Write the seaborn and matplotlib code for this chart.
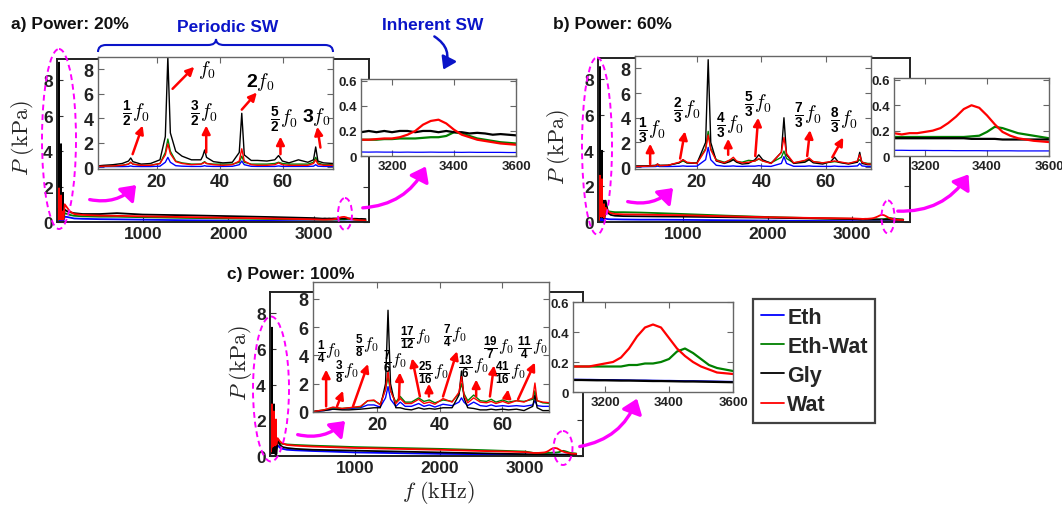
import numpy as np
import pandas as pd
import matplotlib
matplotlib.use("Agg")
import matplotlib.pyplot as plt
import matplotlib.transforms as mtransforms
import matplotlib.ticker as mticker
from matplotlib.patches import Ellipse, FancyArrowPatch, PathPatch
from matplotlib.path import Path
from matplotlib.lines import Line2D
import seaborn as sns

# ---------------------------------------------------------------- data
fluids = ["Eth", "Eth-Wat", "Gly", "Wat"]
colors = ["#0000ff", "#008000", "#000000", "#ff0000"]

# mid-range frequencies (kHz) shown only in the main axes
f_mid = [90, 120, 150, 200, 300, 500, 700, 1000, 1500, 2000, 2500, 3000]
# high-frequency window (kHz)
f_high = [3100, 3125, 3150, 3175, 3200, 3225, 3250, 3275, 3300, 3325, 3350,
          3375, 3400, 3425, 3450, 3475, 3500, 3525, 3550, 3575, 3600]

# ---- panel a (20 %)
a_f_low = [1, 3, 6, 9, 11, 11.7, 12.4, 15, 18, 21, 22.7, 23.5, 24.3, 26, 28, 31,
           34, 34.6, 35.2, 35.8, 38, 41, 44, 46.2, 47, 47.8, 50, 52, 55, 57.5,
           58.7, 59.9, 62, 65, 68, 69.8, 70.5, 71.2, 73, 76]
a_low_eth = [0.02, 0.04, 0.05, 0.05, 0.06, 0.1, 0.06, 0.05, 0.05, 0.08, 0.4, 0.8, 0.4,
             0.12, 0.08, 0.06, 0.06, 0.08, 0.12, 0.08, 0.06, 0.06, 0.07, 0.2, 0.5, 0.2,
             0.07, 0.06, 0.06, 0.06, 0.1, 0.06, 0.06, 0.06, 0.06, 0.08, 0.2, 0.08, 0.06, 0.06]
a_low_ethwat = [0.05, 0.08, 0.1, 0.15, 0.25, 0.4, 0.25, 0.15, 0.15, 0.3, 1.2, 2.3, 1.3,
                0.5, 0.35, 0.25, 0.25, 0.35, 0.45, 0.3, 0.25, 0.25, 0.25, 0.4, 0.9, 0.4,
                0.25, 0.25, 0.25, 0.3, 0.4, 0.3, 0.25, 0.25, 0.25, 0.4, 0.8, 0.35, 0.2, 0.2]
a_low_gly = [0.1, 0.15, 0.2, 0.3, 0.5, 0.75, 0.45, 0.25, 0.3, 0.6, 2.5, 9.0, 2.8,
             1.3, 0.9, 0.6, 0.6, 0.9, 1.4, 0.8, 0.45, 0.35, 0.4, 1.2, 4.4, 1.0,
             0.55, 0.55, 0.5, 0.6, 0.95, 0.5, 0.35, 0.6, 0.4, 0.6, 1.65, 0.5, 0.35, 0.3]
a_low_wat = [0.05, 0.08, 0.1, 0.15, 0.25, 0.4, 0.25, 0.15, 0.15, 0.3, 1.0, 1.9, 1.1,
             0.45, 0.3, 0.2, 0.25, 0.3, 0.4, 0.3, 0.2, 0.15, 0.2, 0.5, 1.5, 0.5,
             0.2, 0.15, 0.15, 0.2, 0.35, 0.2, 0.15, 0.15, 0.15, 0.3, 0.6, 0.25, 0.15, 0.15]
a_mid_eth = [0.3, 0.28, 0.25, 0.2, 0.18, 0.16, 0.15, 0.13, 0.1, 0.08, 0.06, 0.04]
a_mid_ethwat = [0.5, 0.45, 0.4, 0.35, 0.32, 0.3, 0.3, 0.27, 0.23, 0.2, 0.17, 0.14]
a_mid_gly = [0.7, 0.6, 0.55, 0.5, 0.45, 0.45, 0.5, 0.42, 0.38, 0.33, 0.28, 0.22]
a_mid_wat = [1.0, 0.8, 0.6, 0.45, 0.4, 0.36, 0.35, 0.32, 0.28, 0.24, 0.2, 0.15]
a_high_eth = [0.032, 0.031, 0.032, 0.031, 0.031, 0.030, 0.031, 0.030, 0.030, 0.031, 0.030,
              0.030, 0.030, 0.029, 0.030, 0.029, 0.029, 0.029, 0.029, 0.028, 0.028]
a_high_ethwat = [0.13, 0.13, 0.13, 0.135, 0.135, 0.14, 0.14, 0.14, 0.145, 0.15, 0.15,
                 0.16, 0.19, 0.18, 0.16, 0.14, 0.13, 0.12, 0.11, 0.105, 0.10]
a_high_gly = [0.19, 0.20, 0.19, 0.20, 0.19, 0.20, 0.20, 0.19, 0.20, 0.20, 0.19,
              0.20, 0.19, 0.19, 0.18, 0.185, 0.18, 0.17, 0.175, 0.17, 0.165]
a_high_wat = [0.13, 0.13, 0.135, 0.14, 0.14, 0.15, 0.17, 0.2, 0.25, 0.28, 0.29,
              0.26, 0.21, 0.17, 0.15, 0.13, 0.12, 0.11, 0.10, 0.095, 0.09]

# ---- panel b (60 %)
b_f_low = [1, 4, 7.2, 7.8, 8.4, 11, 14.5, 15.7, 16.9, 20, 22.7, 23.5, 24.3, 26, 28.5,
           30.3, 31.3, 32.3, 34, 36, 38, 39.2, 40.4, 43, 46.2, 47, 47.8, 50, 53.5,
           54.8, 56.1, 59, 61.5, 62.7, 63.9, 67, 69.8, 70.5, 71.2, 73, 76]
b_low_eth = [0.03, 0.04, 0.05, 0.08, 0.05, 0.05, 0.07, 0.1, 0.07, 0.08, 0.6, 1.6, 0.6,
             0.15, 0.07, 0.08, 0.1, 0.07, 0.06, 0.08, 0.08, 0.12, 0.08, 0.06, 0.3, 0.85,
             0.3, 0.07, 0.07, 0.1, 0.07, 0.06, 0.06, 0.09, 0.06, 0.05, 0.1, 0.3, 0.1, 0.05, 0.05]
b_low_ethwat = [0.05, 0.07, 0.12, 0.2, 0.12, 0.15, 0.35, 0.5, 0.35, 0.35, 1.5, 2.9, 1.5,
                0.6, 0.4, 0.55, 0.65, 0.45, 0.4, 0.55, 0.5, 0.65, 0.5, 0.35, 0.8, 1.3,
                0.7, 0.35, 0.5, 0.65, 0.45, 0.35, 0.4, 0.45, 0.4, 0.3, 0.45, 0.6, 0.4, 0.3, 0.3]
b_low_gly = [0.1, 0.1, 0.15, 0.25, 0.15, 0.15, 0.35, 0.6, 0.35, 0.3, 2.0, 8.7, 2.0,
             0.5, 0.3, 0.45, 0.6, 0.4, 0.25, 0.3, 0.6, 1.0, 0.6, 0.3, 1.2, 4.0,
             1.0, 0.3, 0.4, 0.6, 0.35, 0.25, 0.45, 0.8, 0.4, 0.25, 0.4, 1.2, 0.3, 0.2, 0.2]
b_low_wat = [0.05, 0.07, 0.12, 0.25, 0.12, 0.15, 0.4, 0.6, 0.4, 0.3, 1.4, 2.6, 1.4,
             0.55, 0.35, 0.6, 0.8, 0.5, 0.35, 0.4, 0.5, 0.7, 0.5, 0.3, 1.2, 2.4,
             1.1, 0.35, 0.55, 0.75, 0.45, 0.35, 0.45, 0.5, 0.45, 0.3, 0.5, 1.0, 0.4, 0.25, 0.25]
b_mid_eth = [0.18, 0.16, 0.15, 0.15, 0.14, 0.13, 0.13, 0.12, 0.1, 0.08, 0.06, 0.05]
b_mid_ethwat = [0.6, 0.6, 0.58, 0.55, 0.55, 0.53, 0.5, 0.45, 0.36, 0.28, 0.22, 0.18]
b_mid_gly = [1.2, 0.5, 0.4, 0.35, 0.33, 0.32, 0.31, 0.3, 0.27, 0.24, 0.2, 0.16]
b_mid_wat = [0.8, 0.6, 0.5, 0.45, 0.43, 0.42, 0.4, 0.38, 0.32, 0.27, 0.23, 0.2]
b_high_eth = [0.045, 0.045, 0.044, 0.044, 0.044, 0.043, 0.043, 0.043, 0.042, 0.042, 0.042,
              0.042, 0.041, 0.041, 0.041, 0.041, 0.040, 0.040, 0.040, 0.040, 0.040]
b_high_ethwat = [0.15, 0.15, 0.15, 0.15, 0.15, 0.15, 0.15, 0.15, 0.15, 0.15, 0.155,
                 0.16, 0.19, 0.23, 0.22, 0.2, 0.18, 0.17, 0.16, 0.15, 0.14]
b_high_gly = [0.14, 0.14, 0.14, 0.14, 0.14, 0.14, 0.14, 0.14, 0.14, 0.14, 0.135,
              0.135, 0.135, 0.135, 0.13, 0.13, 0.13, 0.13, 0.13, 0.13, 0.13]
b_high_wat = [0.18, 0.17, 0.18, 0.18, 0.19, 0.2, 0.22, 0.26, 0.31, 0.37, 0.4,
              0.38, 0.32, 0.25, 0.19, 0.16, 0.14, 0.13, 0.12, 0.115, 0.11]

# ---- panel c (100 %)
c_f_low = [0, 3, 5.9, 8.8, 11, 14.7, 17, 19, 21, 22.7, 23.5, 24.3, 26, 27.4, 29, 31,
           33.3, 35, 36.7, 38.5, 41.1, 44, 46.2, 47, 47.8, 49, 50.9, 53, 55, 56.5,
           58, 60.2, 62, 64.6, 67, 69.8, 70.5, 71.2, 73, 75.5]
c_low_eth = [0.03, 0.1, 0.2, 0.2, 0.25, 0.3, 0.5, 0.5, 0.35, 1.0, 1.8, 0.9, 0.4, 0.7,
             0.4, 0.4, 0.6, 0.4, 0.5, 0.35, 0.55, 0.45, 0.7, 1.0, 0.7, 0.45, 0.7, 0.45,
             0.4, 0.5, 0.4, 0.45, 0.4, 0.45, 0.4, 0.5, 0.8, 0.45, 0.4, 0.4]
c_low_ethwat = [0.05, 0.15, 0.3, 0.25, 0.3, 0.35, 0.8, 0.8, 0.55, 1.6, 2.5, 1.5, 0.7, 1.1,
                0.7, 0.7, 1.0, 0.75, 0.85, 0.65, 0.85, 0.75, 1.3, 2.0, 1.3, 0.8, 1.2, 0.8,
                0.75, 0.9, 0.7, 0.85, 0.7, 0.8, 0.75, 0.9, 1.5, 0.8, 0.65, 0.6]
c_low_gly = [0.05, 0.1, 0.2, 0.15, 0.15, 0.2, 0.25, 0.3, 0.3, 2.0, 7.2, 2.0, 0.3, 0.3,
             0.2, 0.15, 0.3, 0.2, 0.25, 0.2, 0.3, 0.3, 1.2, 2.9, 1.0, 0.3, 0.25, 0.15,
             0.15, 0.2, 0.15, 0.2, 0.15, 0.2, 0.1, 0.4, 1.2, 0.3, 0.1, 0.1]
c_low_wat = [0.05, 0.15, 0.35, 0.25, 0.3, 0.4, 0.8, 0.85, 0.5, 1.6, 2.9, 1.5, 0.6, 0.95,
             0.6, 0.6, 0.9, 0.6, 0.7, 0.55, 0.95, 0.7, 1.4, 2.5, 1.2, 0.65, 1.0, 0.7,
             0.65, 0.75, 0.6, 0.75, 0.6, 0.8, 0.7, 1.0, 2.05, 0.8, 0.7, 0.65]
c_mid_eth = [0.6, 0.45, 0.4, 0.35, 0.32, 0.28, 0.25, 0.2, 0.16, 0.12, 0.1, 0.08]
c_mid_ethwat = [0.8, 0.7, 0.68, 0.65, 0.62, 0.58, 0.55, 0.5, 0.45, 0.4, 0.33, 0.25]
c_mid_gly = [0.9, 0.6, 0.5, 0.45, 0.4, 0.35, 0.33, 0.3, 0.25, 0.2, 0.15, 0.1]
c_mid_wat = [1.0, 0.8, 0.7, 0.62, 0.58, 0.53, 0.5, 0.45, 0.4, 0.35, 0.28, 0.22]
c_high_eth = [0.085, 0.084, 0.084, 0.083, 0.082, 0.082, 0.081, 0.080, 0.079, 0.079, 0.078,
              0.077, 0.077, 0.076, 0.075, 0.075, 0.074, 0.073, 0.072, 0.071, 0.070]
c_high_ethwat = [0.17, 0.17, 0.17, 0.17, 0.17, 0.17, 0.17, 0.18, 0.18, 0.19, 0.19,
                 0.2, 0.22, 0.27, 0.29, 0.26, 0.22, 0.18, 0.16, 0.15, 0.14]
c_high_gly = [0.08, 0.08, 0.079, 0.078, 0.078, 0.077, 0.076, 0.076, 0.075, 0.074, 0.073,
              0.073, 0.072, 0.071, 0.07, 0.07, 0.069, 0.068, 0.067, 0.066, 0.065]
c_high_wat = [0.17, 0.17, 0.17, 0.18, 0.19, 0.2, 0.23, 0.29, 0.37, 0.43, 0.45,
              0.43, 0.36, 0.29, 0.24, 0.2, 0.17, 0.15, 0.13, 0.125, 0.12]

# annotation labels (text, text position, arrow tail, arrow head) in inset data units
a_labels = [
    (r"$\frac{\mathbf{1}}{\mathbf{2}}f_0$", (13.3, 4.4), (12.3, 1.06), (15.5, 3.4)),
    (r"$f_0$", (36.0, 8.0), (25.0, 6.4), (31.9, 8.2)),
    (r"$\frac{\mathbf{3}}{\mathbf{2}}f_0$", (35.0, 4.4), (35.7, 1.2), (35.7, 3.4)),
    (r"$\mathbf{2}f_0$", (53.0, 7.0), (47.0, 4.7), (51.8, 6.1)),
    (r"$\frac{\mathbf{5}}{\mathbf{2}}f_0$", (60.5, 3.9), (59.3, 1.06), (59.3, 2.5)),
    (r"$\mathbf{3}f_0$", (70.7, 4.2), (72.0, 1.6), (71.0, 3.3)),
]
b_labels = [
    (r"$\frac{\mathbf{1}}{\mathbf{3}}f_0$", (6.0, 3.0), (5.5, 0.25), (5.5, 1.9)),
    (r"$\frac{\mathbf{2}}{\mathbf{3}}f_0$", (17.0, 4.6), (14.8, 0.7), (16.3, 2.9)),
    (r"$\frac{\mathbf{4}}{\mathbf{3}}f_0$", (30.3, 3.4), (29.7, 1.0), (29.7, 2.3)),
    (r"$\frac{\mathbf{5}}{\mathbf{3}}f_0$", (39.0, 5.1), (38.1, 0.9), (39.0, 4.0)),
    (r"$\frac{\mathbf{7}}{\mathbf{3}}f_0$", (54.5, 4.2), (54.2, 0.9), (55.1, 3.0)),
    (r"$\frac{\mathbf{8}}{\mathbf{3}}f_0$", (65.5, 3.8), (62.0, 0.8), (65.4, 2.4)),
]
c_labels = [
    (r"$\frac{\mathbf{1}}{\mathbf{4}}f_0$", (4.5, 4.3), (3.7, 0.4), (3.7, 3.0)),
    (r"$\frac{\mathbf{3}}{\mathbf{8}}f_0$", (10.4, 2.9), (7.2, 0.4), (9.1, 1.5)),
    (r"$\frac{\mathbf{5}}{\mathbf{8}}f_0$", (16.8, 4.7), (12.3, 0.4), (17.1, 3.4)),
    (r"$\frac{\mathbf{7}}{\mathbf{6}}f_0$", (25.7, 3.6), (27.0, 0.9), (27.3, 2.8)),
    (r"$\frac{\mathbf{17}}{\mathbf{12}}f_0$", (32.1, 5.3), (33.7, 1.1), (31.2, 3.8)),
    (r"$\frac{\mathbf{25}}{\mathbf{16}}f_0$", (37.9, 2.8), (36.6, 1.1), (36.6, 2.0)),
    (r"$\frac{\mathbf{7}}{\mathbf{4}}f_0$", (44.9, 5.4), (41.1, 1.1), (45.6, 4.3)),
    (r"$\frac{\mathbf{13}}{\mathbf{6}}f_0$", (50.7, 3.2), (51.7, 1.1), (51.7, 2.3)),
    (r"$\frac{\mathbf{19}}{\mathbf{7}}f_0$", (58.7, 4.6), (56.1, 1.1), (57.4, 3.3)),
    (r"$\frac{\mathbf{41}}{\mathbf{16}}f_0$", (62.5, 2.8), (61.6, 1.1), (61.9, 1.6)),
    (r"$\frac{\mathbf{11}}{\mathbf{4}}f_0$", (69.6, 4.6), (65.1, 0.9), (70.5, 3.5)),
]

# ---------------------------------------------------------------- style
sns.set_theme(style="ticks")
plt.rcParams.update({
    "font.family": ["Liberation Sans", "DejaVu Sans"],
    "font.weight": "bold",
    "mathtext.fontset": "custom",
    "mathtext.rm": "cmr10",
    "mathtext.it": "cmmi10",
    "mathtext.bf": "Liberation Sans:bold",
    "axes.unicode_minus": False,
    "xtick.direction": "in",
    "ytick.direction": "in",
    "xtick.top": True,
    "ytick.right": True,
})

W, H = 1062, 510
fig = plt.figure(figsize=(W / 100, H / 100), dpi=100)
T = mtransforms.Affine2D().scale(1 / W, -1 / H).translate(0, 1) + fig.transFigure


def add_ax(x0, y0, x1, y1):
    return fig.add_axes([x0 / W, 1 - y1 / H, (x1 - x0) / W, (y1 - y0) / H])


def long_df(f, series):
    rows = []
    for name, vals in zip(fluids, series):
        rows.append(pd.DataFrame({"f": f, "P": vals, "fluid": name}))
    return pd.concat(rows, ignore_index=True)


def draw(ax, df, lw):
    sns.lineplot(data=df, x="f", y="P", hue="fluid", hue_order=fluids,
                 palette=colors, estimator=None, sort=False, legend=False,
                 lw=lw, ax=ax)
    ax.set_xlabel("")
    ax.set_ylabel("")


def style(ax, main, fs):
    for s in ax.spines.values():
        s.set_linewidth(1.4 if main else 1.0)
        s.set_color("#222222" if main else "#666666")
    ax.tick_params(length=4, width=0.8, labelsize=fs, pad=3,
                   colors="#333333" if main else "#666666", labelcolor="#222222")
    for lab in ax.get_xticklabels() + ax.get_yticklabels():
        lab.set_fontweight("bold")
    ax.set_facecolor("white")


fmt_hi = mticker.FuncFormatter(lambda v, p: "0" if abs(v) < 1e-9 else f"{v:.1f}")


def panel(main_box, low_box, high_box, f_low, low, mid, high, labels,
          main_xlim, low_xlim, low_ylim, high_ylim, lab_fs):
    axm = add_ax(*main_box)
    f_all = list(f_low) + list(f_mid) + list(f_high)
    series_all = [list(l) + list(m) + list(h) for l, m, h in zip(low, mid, high)]
    draw(axm, long_df(f_all, series_all), 1.3)
    axm.set_xlim(*main_xlim)
    axm.set_ylim(0, 9.2)
    axm.set_xticks([1000, 2000, 3000])
    axm.set_yticks([0, 2, 4, 6, 8])
    style(axm, True, 12.5)

    axl = add_ax(*low_box)
    draw(axl, long_df(f_low, low), 1.0)
    axl.set_xlim(*low_xlim)
    axl.set_ylim(*low_ylim)
    axl.set_xticks([20, 40, 60])
    axl.set_yticks([0, 2, 4, 6, 8])
    style(axl, False, 13)
    for txt, tp, tail, head in labels:
        axl.text(tp[0], tp[1], txt, ha="center", va="center", fontsize=lab_fs,
                 color="black")
        axl.annotate("", xy=head, xytext=tail,
                     arrowprops=dict(arrowstyle="-|>", color="red", lw=1.8,
                                     mutation_scale=12, shrinkA=0, shrinkB=0))

    axh = add_ax(*high_box)
    draw(axh, long_df(f_high, high), 1.6)
    axh.set_xlim(3100, 3600)
    axh.set_ylim(*high_ylim)
    axh.set_xticks([3200, 3400, 3600])
    axh.set_yticks([0, 0.2, 0.4, 0.6])
    axh.yaxis.set_major_formatter(fmt_hi)
    style(axh, False, 9.5)
    for ln in axh.get_lines():
        if ln.get_color() in ("#0000ff",):
            ln.set_linewidth(0.9)
    return axm, axl, axh


panel((57, 60, 369, 223), (98, 58, 333, 170), (361, 80, 516, 157),
      a_f_low, [a_low_eth, a_low_ethwat, a_low_gly, a_low_wat],
      [a_mid_eth, a_mid_ethwat, a_mid_gly, a_mid_wat],
      [a_high_eth, a_high_ethwat, a_high_gly, a_high_wat], a_labels,
      (0, 3640), (1.3, 76), (-0.15, 9.0), (0, 0.615), 14)
panel((598, 59, 910, 223), (635, 57, 871, 170), (894, 79, 1049, 157),
      b_f_low, [b_low_eth, b_low_ethwat, b_low_gly, b_low_wat],
      [b_mid_eth, b_mid_ethwat, b_mid_gly, b_mid_wat],
      [b_high_eth, b_high_ethwat, b_high_gly, b_high_wat], b_labels,
      (0, 3680), (0.8, 74), (-0.15, 9.0), (0, 0.615), 14)
panel((270, 293, 583, 457), (313, 283, 549, 413), (573, 303, 733, 393),
      c_f_low, [c_low_eth, c_low_ethwat, c_low_gly, c_low_wat],
      [c_mid_eth, c_mid_ethwat, c_mid_gly, c_mid_wat],
      [c_high_eth, c_high_ethwat, c_high_gly, c_high_wat], c_labels,
      (0, 3680), (-0.5, 75), (0, 9.2), (0, 0.6), 12)

# ---------------------------------------------------------------- texts
for s, x, y in [("a) Power: 20%", 11, 25), ("b) Power: 60%", 553, 25),
                ("c) Power: 100%", 227, 275)]:
    fig.text(x, y, s, transform=T, fontsize=12.5, fontweight="bold",
             ha="left", va="center", color="#111111")
fig.text(228, 27, "Periodic SW", transform=T, fontsize=12.5, fontweight="bold",
         ha="center", va="center", color="#0a14c8")
fig.text(433, 25, "Inherent SW", transform=T, fontsize=12.5, fontweight="bold",
         ha="center", va="center", color="#0a14c8")
for x, y in [(22, 138), (558, 147), (240, 363)]:
    fig.text(x, y, r"$P\ (\mathrm{kPa})$", transform=T, fontsize=16, rotation=90,
             ha="center", va="center", math_fontfamily="cm", fontweight="normal")
fig.text(438, 493, r"$f\ (\mathrm{kHz})$", transform=T, fontsize=16,
         ha="center", va="center", math_fontfamily="cm", fontweight="normal")

# ---------------------------------------------------------------- decorations
mag = "#ff00ff"
for cx, cy, w, h in [(59, 140, 34, 180), (345, 215, 14, 32), (597, 147, 30, 177),
                     (888, 218, 13, 33), (271, 390, 36, 145), (563, 449, 19, 34)]:
    fig.add_artist(Ellipse((cx, cy), w, h, transform=T, fill=False, ec=mag,
                           lw=1.4, ls=(0, (3, 2)), zorder=20))

for pa, pb in [((87, 200), (138, 184)), ((360, 209), (427, 165)),
               ((625, 202), (675, 187)), ((895, 212), (970, 173)),
               ((295, 435), (347, 420)), ((577, 448), (638, 397))]:
    fig.add_artist(FancyArrowPatch(pa, pb, transform=T,
                                   connectionstyle="arc3,rad=0.3",
                                   arrowstyle="-|>,head_length=0.6,head_width=0.45",
                                   mutation_scale=14, color=mag, lw=2.4, zorder=20))

fig.add_artist(FancyArrowPatch((432, 36), (442, 73), transform=T,
                               connectionstyle="arc3,rad=-0.5",
                               arrowstyle="-|>,head_length=0.6,head_width=0.4",
                               mutation_scale=12, color="#0a14c8", lw=1.8, zorder=20))

brace = Path([(98, 53), (98, 46), (106, 46), (208, 46), (216, 46), (216, 40),
              (216, 46), (224, 46), (325, 46), (333, 46), (333, 53)],
             [Path.MOVETO, Path.CURVE3, Path.CURVE3, Path.LINETO, Path.CURVE3,
              Path.CURVE3, Path.CURVE3, Path.CURVE3, Path.LINETO, Path.CURVE3,
              Path.CURVE3])
fig.add_artist(PathPatch(brace, transform=T, fill=False, ec="#0a14c8", lw=1.5,
                         zorder=20))

# ---------------------------------------------------------------- legend
handles = [Line2D([], [], color=c, lw=1.3) for c in colors]
leg = fig.legend(handles, fluids, loc="upper left",
                 bbox_to_anchor=(753 / W, 1 - 300 / H), bbox_transform=fig.transFigure,
                 borderaxespad=0, frameon=True, fancybox=False,
                 prop={"family": "Liberation Sans", "weight": "bold", "size": 15.5},
                 handlelength=1.1, handletextpad=0.15, labelspacing=0.38,
                 borderpad=0.35)
leg.get_frame().set_edgecolor("#111111")
leg.get_frame().set_linewidth(1.6)

fig.savefig("out.png", dpi=100)
